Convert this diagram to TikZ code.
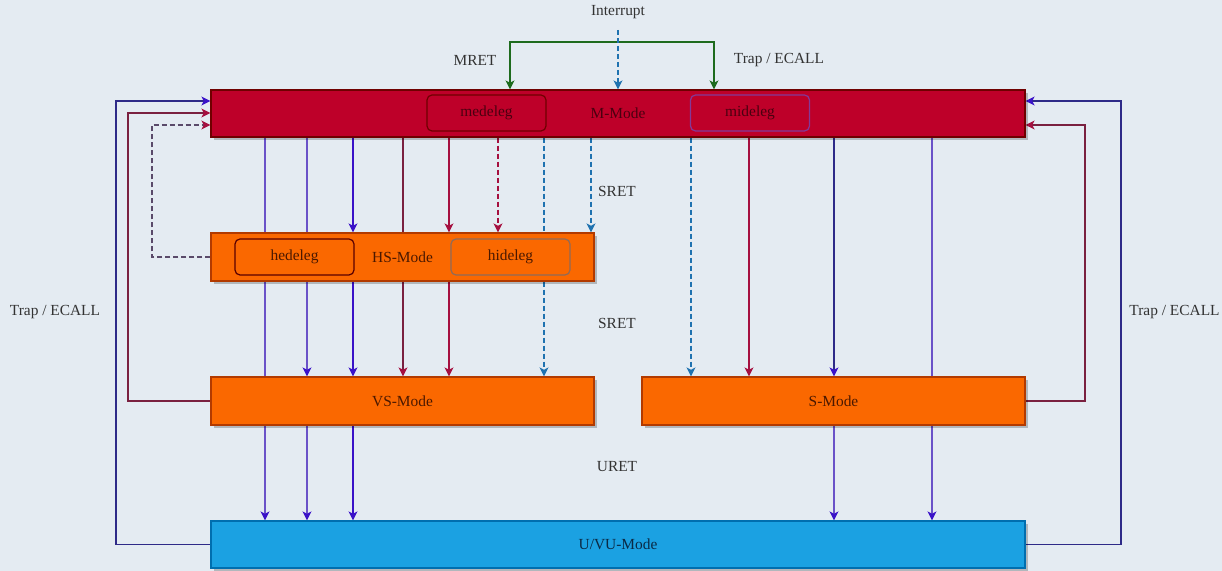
\documentclass[tikz,border=0pt]{standalone}
\usepackage{fontspec}
\setmainfont{Liberation Serif}
\usetikzlibrary{arrows.meta,shadows}
\definecolor{bgc}{HTML}{E4EBF2}
\definecolor{Mfill}{HTML}{BE0029}
\definecolor{Mdraw}{HTML}{6F0000}
\definecolor{Mtext}{HTML}{4A0010}
\definecolor{Ofill}{HTML}{FA6800}
\definecolor{Odraw}{HTML}{B23A00}
\definecolor{Otext}{HTML}{4A1800}
\definecolor{Ufill}{HTML}{1BA1E2}
\definecolor{Udraw}{HTML}{006EAF}
\definecolor{Utext}{HTML}{0A2A45}
\definecolor{vio}{HTML}{3A12C8}
\definecolor{viol}{HTML}{6A52C8}
\definecolor{viod}{HTML}{2E2A88}
\definecolor{crim}{HTML}{A50F3F}
\definecolor{maroon}{HTML}{7A2040}
\definecolor{dblue}{HTML}{1F72B0}
\definecolor{grn}{HTML}{1E6B1E}
\definecolor{gpur}{HTML}{5A4A6A}
\definecolor{lbl}{HTML}{333333}
\pgfdeclarelayer{back}
\pgfdeclarelayer{bg}
\pgfsetlayers{back,bg,main}
\tikzset{
  mode/.style={draw, line width=0.6pt, inner sep=0pt,
    drop shadow={shadow xshift=1.5pt, shadow yshift=-1.5pt, fill=black, opacity=0.22}},
  mbox/.style={mode, fill=Mfill, draw=Mdraw, text=Mtext, minimum width=407pt, minimum height=23.5pt},
  obox/.style={mode, fill=Ofill, draw=Odraw, text=Otext, minimum width=191.5pt, minimum height=24pt},
  ubox/.style={mode, fill=Ufill, draw=Udraw, text=Utext, minimum width=407pt, minimum height=23.5pt},
  reg/.style={draw, line width=0.6pt, rounded corners=2.5pt, inner sep=0pt,
    minimum width=59.5pt, minimum height=18pt, text height=5pt, text depth=1pt},
  lab/.style={text=lbl},
  conn/.style={line width=0.6pt, draw=#1},
  tip/.style={-{Stealth[length=4.5pt,width=4.5pt,inset=1.2pt,color=#1]}},
  tips/.style={{Stealth[length=4.5pt,width=4.5pt,inset=1.2pt,color=#1]}-{Stealth[length=4.5pt,width=4.5pt,inset=1.2pt,color=#1]}},
  dsh/.style={dash pattern=on 2.5pt off 1.5pt},
}
\begin{document}
\begin{tikzpicture}[x=0.5pt,y=-0.5pt,font=\fontsize{7.7}{9}\selectfont]
\begin{pgfonlayer}{back}
\fill[bgc] (0,0) rectangle (1222,571);
\end{pgfonlayer}
\useasboundingbox (0,0) rectangle (1222,571);

% boxes
\node[mbox] (M) at (618,113.5) {M-Mode};
\node[reg, draw=Mdraw, text=Mtext] (medeleg) at (486.5,113) {medeleg};
\node[reg, draw=viol!70!Mfill, text=Mtext] (mideleg) at (750,113) {mideleg};
\node[obox] (HS) at (402.5,257) {HS-Mode};
\node[reg, draw=Mdraw!80!black, text=Otext] (hedeleg) at (294.5,257) {hedeleg};
\node[reg, draw=gray!70!Odraw, text=Otext] (hideleg) at (510.5,257) {hideleg};
\node[obox] (VS) at (402.5,401) {VS-Mode};
\node[obox] (S) at (833.5,401) {S-Mode};
\node[ubox] (U) at (618,544.5) {U/VU-Mode};

% labels
\node[lab] (lint) at (618,12) {Interrupt};
\node[lab] (lmret) at (475,60) {MRET};
\node[lab] (ltrap) at (779,60) {Trap / ECALL};
\node[lab] (lsret1) at (617,191) {SRET};
\node[lab] (lsret2) at (617,323) {SRET};
\node[lab] (luret) at (617,467) {URET};
\node[lab] (ltl) at (55,312) {Trap / ECALL};
\node[lab, anchor=east, inner xsep=0pt] (ltr) at (1220,312) {Trap / ECALL};

% column coordinates
\foreach \x in {265,307,353,403,449,498,544,591,618,691,749,834,932,510,714}
  \coordinate (c\x) at (\x,0);
\coordinate (itop) at (618,30);
\coordinate (gtop) at (612,42);
\coordinate (l1) at (116,0);
\coordinate (l2) at (128,0);
\coordinate (l3) at (152,0);
\coordinate (r1) at (1121,0);
\coordinate (r2) at (1085,0);
\coordinate (y1) at (0,101);
\coordinate (y2) at (0,113);
\coordinate (y3) at (0,125);

\begin{pgfonlayer}{bg}
% top
\draw[conn=grn, tips=grn] (M.north -| c510) |- (gtop) -| (M.north -| c714);
\draw[conn=dblue, dsh, tip=dblue] (itop) -- (M.north -| c618);
% M -> U
\draw[conn=viol, tip=vio] (M.south -| c265) -- (U.north -| c265);
\draw[conn=viol, tip=vio] (M.south -| c932) -- (U.north -| c932);
% M -> VS
\draw[conn=viol, tip=vio] (M.south -| c307) -- (VS.north -| c307);
\draw[conn=maroon, tip=crim] (M.south -| c403) -- (VS.north -| c403);
\draw[conn=dblue, dsh, tip=dblue] (M.south -| c544) -- (VS.north -| c544);
% M -> HS
\draw[conn=vio, tip=vio] (M.south -| c353) -- (HS.north -| c353);
\draw[conn=crim, tip=crim] (M.south -| c449) -- (HS.north -| c449);
\draw[conn=crim, dsh, tip=crim] (M.south -| c498) -- (HS.north -| c498);
\draw[conn=dblue, dsh, tip=dblue] (M.south -| c591) -- (HS.north -| c591);
% HS -> VS
\draw[conn=vio, tip=vio] (HS.south -| c353) -- (VS.north -| c353);
\draw[conn=crim, tip=crim] (HS.south -| c449) -- (VS.north -| c449);
% M -> S
\draw[conn=dblue, dsh, tip=dblue] (M.south -| c691) -- (S.north -| c691);
\draw[conn=crim, tip=crim] (M.south -| c749) -- (S.north -| c749);
\draw[conn=viod, tip=vio] (M.south -| c834) -- (S.north -| c834);
% VS -> U, S -> U
\draw[conn=viol, tip=vio] (VS.south -| c307) -- (U.north -| c307);
\draw[conn=vio, tip=vio] (VS.south -| c353) -- (U.north -| c353);
\draw[conn=viol, tip=vio] (S.south -| c834) -- (U.north -| c834);
% left loops
\draw[conn=viod, tip=vio] (U.west) -| (l1 |- y1) -- (M.west |- y1);
\draw[conn=maroon, tip=crim] (VS.west) -| (l2 |- y2) -- (M.west |- y2);
\draw[conn=gpur, dsh, tip=crim] (HS.west) -| (l3 |- y3) -- (M.west |- y3);
% right loops
\draw[conn=viod, tip=vio] (U.east) -| (r1 |- y1) -- (M.east |- y1);
\draw[conn=maroon, tip=crim] (S.east) -| (r2 |- y3) -- (M.east |- y3);
\end{pgfonlayer}
\end{tikzpicture}
\end{document}
